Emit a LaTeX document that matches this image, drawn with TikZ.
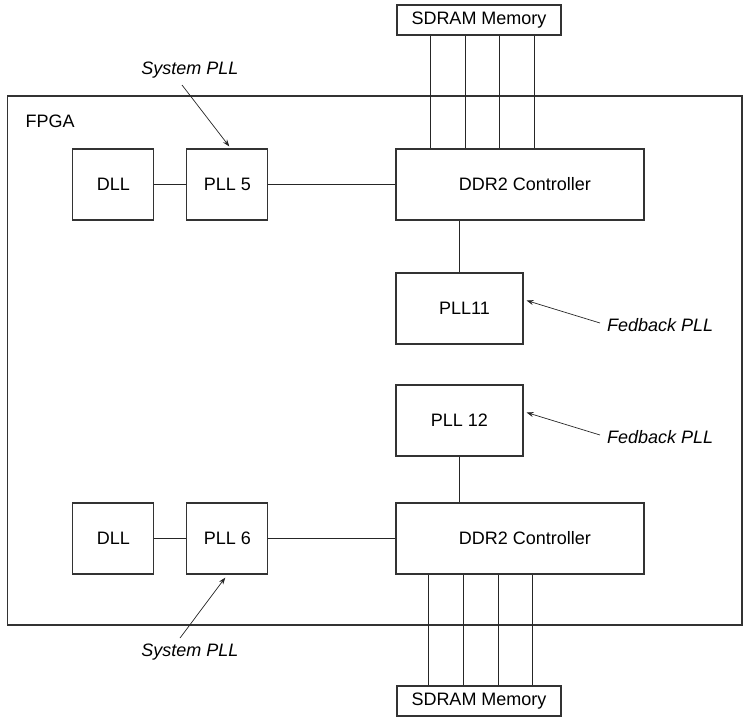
\documentclass[tikz,border=0pt]{standalone}
\usepackage{fontspec}
\setmainfont{Liberation Sans}
\usetikzlibrary{arrows.meta}
\usetikzlibrary{positioning}

\tikzset{
    blk/.style={draw=black!80, line width=1.1pt, inner sep=0pt, font=\fontsize{18}{21}\selectfont},
    lbl/.style={font=\fontsize{18}{21}\selectfont\itshape, inner sep=0pt},
    wire/.style={draw=black!85, line width=0.9pt},
    pointer/.style={draw=black!85, line width=0.7pt, -{Stealth[length=7pt,width=5pt]}}
}

\begin{document}
\begin{tikzpicture}[x=1pt,y=-1pt]
    \useasboundingbox (0,0) rectangle (744,716);

    % FPGA outline and its name
    \node[blk, minimum width=734.5pt, minimum height=529pt] (fpga) at (374.75,360.5) {};
    \node[blk, draw=none, anchor=west] (fpganame) at (25,121) {FPGA};

    % Add or remove blocks here, use the tuple for location
    \begin{scope}[every node/.style={blk}]
    % upper half
    \node[minimum width=164pt, minimum height=30pt] (memA) at (479,20) {SDRAM Memory};
    \node[minimum width=81pt, minimum height=71pt] (dllA) at (113.3,184.5) {DLL};
    \node[minimum width=81pt, minimum height=71pt] (pllA) at (227.3,184.5) {PLL 5};
    \node[minimum width=248pt, minimum height=71pt] (ddrA) at (520,184.5) {\hspace{10pt}DDR2 Controller};
    \node[minimum width=127pt, minimum height=71pt] (fbA) at (459.5,308.5) {\hspace{10pt}PLL11};
    % lower half
    \node[minimum width=127pt, minimum height=71pt] (fbB) at (459.5,420.5) {PLL 12};
    \node[minimum width=81pt, minimum height=71pt] (dllB) at (113.3,538.5) {DLL};
    \node[minimum width=81pt, minimum height=71pt] (pllB) at (227.3,538.5) {PLL 6};
    \node[minimum width=248pt, minimum height=71pt] (ddrB) at (520,538.5) {\hspace{10pt}DDR2 Controller};
    \node[minimum width=164pt, minimum height=30pt] (memB) at (479,701) {SDRAM Memory};
    \end{scope}

    % wires between the blocks
    \begin{scope}[every path/.style={wire}]
    \path (dllA) edge (pllA);
    \path (pllA) edge (ddrA);
    \path (fbA.north) edge (fbA.north |- ddrA.south);
    \path (dllB) edge (pllB);
    \path (pllB) edge (ddrB);
    \path (fbB.south) edge (fbB.south |- ddrB.north);
    \end{scope}

    % memory buses
    \foreach \dx in {34,69,103,138}
        \draw[wire] ([xshift=\dx pt]memA.south west) -- ([xshift=\dx pt]memA.south west |- ddrA.north);
    \foreach \dx in {32,67,102,136}
        \draw[wire] ([xshift=\dx pt]memB.north west) -- ([xshift=\dx pt]memB.north west |- ddrB.south);

    % labels with their pointers
    \node[lbl] (sysA) at (190,70) {System PLL};
    \node[lbl, anchor=west] (fedA) at (607,325) {Fedback PLL};
    \node[lbl, anchor=west] (fedB) at (607,437) {Fedback PLL};
    \node[lbl] (sysB) at (190,652) {System PLL};

    \coordinate (sysAtail) at (182,85);
    \coordinate (fedAtail) at (600,323);
    \coordinate (fedBtail) at (600,435);
    \coordinate (sysBtail) at (180,638);

    \draw[pointer] (sysAtail) -- ([xshift=2pt,yshift=2pt]pllA.north);
    \draw[pointer] (fedAtail) -- ([xshift=3pt,yshift=8pt]fbA.east);
    \draw[pointer] (fedBtail) -- ([xshift=3pt,yshift=8pt]fbB.east);
    \draw[pointer] (sysBtail) -- ([xshift=-2pt,yshift=-3pt]pllB.south);

\end{tikzpicture}
\end{document}
